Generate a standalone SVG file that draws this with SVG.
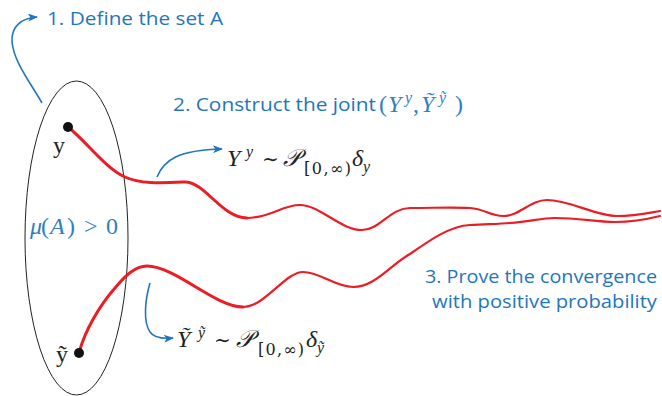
<svg xmlns="http://www.w3.org/2000/svg" width="662" height="396" viewBox="0 0 662 396">
<defs>
<style>
.note{font-family:"Open Sans","Liberation Sans",sans-serif;fill:#1f76be;font-size:18px}
.math{font-family:"Liberation Serif","DejaVu Serif",serif;fill:#222;font-size:24px}
.dv{font-family:"DejaVu Serif",serif}
.blue{fill:#2f80c0}
.path{fill:none;stroke:#ec1c24;stroke-linecap:round;stroke-linejoin:round}
.arrow{fill:none;stroke:#1f76be;stroke-width:1.6}
.it{font-style:italic}
.sm{font-size:16px}
</style>
<marker id="ah" viewBox="0 0 10 8" refX="9" refY="4" markerWidth="11" markerHeight="8" markerUnits="userSpaceOnUse" orient="auto">
<path d="M0,0 L10,4 L0,8 L2.5,4 Z" fill="#1f76be"/>
</marker>
</defs>
<rect width="662" height="396" fill="#fff"/>

<g id="setA">
<ellipse cx="76.5" cy="238" rx="51.5" ry="157" fill="none" stroke="#222" stroke-width="1"/>
<text class="math blue" font-size="24"><tspan class="it" x="30" y="234">μ</tspan><tspan x="41" y="234">(</tspan><tspan class="it" x="50" y="234">A</tspan><tspan x="67" y="234">)</tspan><tspan x="84" y="234">&gt;</tspan><tspan x="106" y="234">0</tspan></text>
</g>

<g id="connectors">
<path class="path" stroke-width="3" d="M68,127 C85,140 105,168 125,177 C140,184 160,183 185,182 C205,182 222,218 247,218"/>
<path class="path" stroke-width="2.2" d="M247,218 C270,218 282,205 300,205 C320,205 340,230 362,230 C380,230 390,208 410,208 C435,208 450,207 470,208 C485,209 490,216 503,216 C520,216 530,200 547,200 C570,200 595,216 617,216 C635,216 648,213 660,211"/>
<path class="path" stroke-width="3" d="M79,353 C85,330 100,305 115,288 C125,276 135,266 147,266 C175,266 215,307 243,307"/>
<path class="path" stroke-width="2.2" d="M243,307 C265,307 285,272 303,272 C320,272 335,287 353,287 C375,287 390,265 410,254 C430,240 450,226 470,225 C490,224 500,224 510,223 C530,222 540,218 555,218 C580,218 595,222 615,222 C635,222 648,219 660,216"/>
<path class="arrow" marker-end="url(#ah)" d="M42,103 C30,82 14,62 12,42 C11,26 22,18 37,17"/>
<path class="arrow" marker-end="url(#ah)" d="M157,177 C164,160 178,150 222,149"/>
<path class="arrow" marker-end="url(#ah)" d="M150,283 C145,300 143,322 150,332 C154,338 162,339 173,338"/>
</g>

<g id="pointY">
<circle cx="68" cy="127" r="5" fill="#111"/>
<text class="math" x="53" y="153" font-size="21">y</text>
</g>

<g id="pointYt">
<circle cx="79" cy="353" r="5" fill="#111"/>
<text class="math" x="56" y="362" font-size="21">ỹ</text>
</g>

<g id="step1">
<text class="note" x="47" y="25" textLength="176" lengthAdjust="spacingAndGlyphs">1. Define the set A</text>
</g>

<g id="step2">
<text class="note" x="173" y="111" font-size="19" textLength="203" lengthAdjust="spacingAndGlyphs">2. Construct the joint</text>
<text class="math blue" font-size="23"><tspan x="379" y="112">(</tspan><tspan class="it" x="388" y="112">Y</tspan><tspan class="it sm" x="405" y="103">y</tspan><tspan x="413" y="112">,</tspan><tspan class="it" x="421" y="112">Ỹ</tspan><tspan class="it sm" x="439" y="103">ỹ</tspan><tspan x="455" y="112">)</tspan></text>
</g>

<g id="lawY">
<text class="math"><tspan class="it" x="227" y="166">Y</tspan><tspan class="it sm" x="246" y="157">y</tspan><tspan class="dv" font-size="20" x="262" y="166">∼</tspan><tspan class="it" x="283" y="166">𝒫</tspan><tspan class="sm dv" font-size="15" x="304" y="174" textLength="47" lengthAdjust="spacing">[0,∞)</tspan><tspan class="it" x="352" y="166">δ</tspan><tspan class="it sm" x="363" y="172">y</tspan></text>
</g>

<g id="lawYt">
<text class="math"><tspan class="it" x="177" y="347">Ỹ</tspan><tspan class="it sm" x="198" y="338">ỹ</tspan><tspan class="dv" font-size="20" x="214" y="347">∼</tspan><tspan class="it" x="236" y="347">𝒫</tspan><tspan class="sm dv" font-size="15" x="258" y="355" textLength="46" lengthAdjust="spacing">[0,∞)</tspan><tspan class="it" x="306" y="347">δ</tspan><tspan class="it sm" x="317" y="353">ỹ</tspan></text>
</g>

<g id="step3">
<text class="note" x="657" y="283" text-anchor="end" textLength="232" lengthAdjust="spacingAndGlyphs">3. Prove the convergence</text>
<text class="note" x="657" y="308" text-anchor="end" textLength="225" lengthAdjust="spacingAndGlyphs">with positive probability</text>
</g>
</svg>
